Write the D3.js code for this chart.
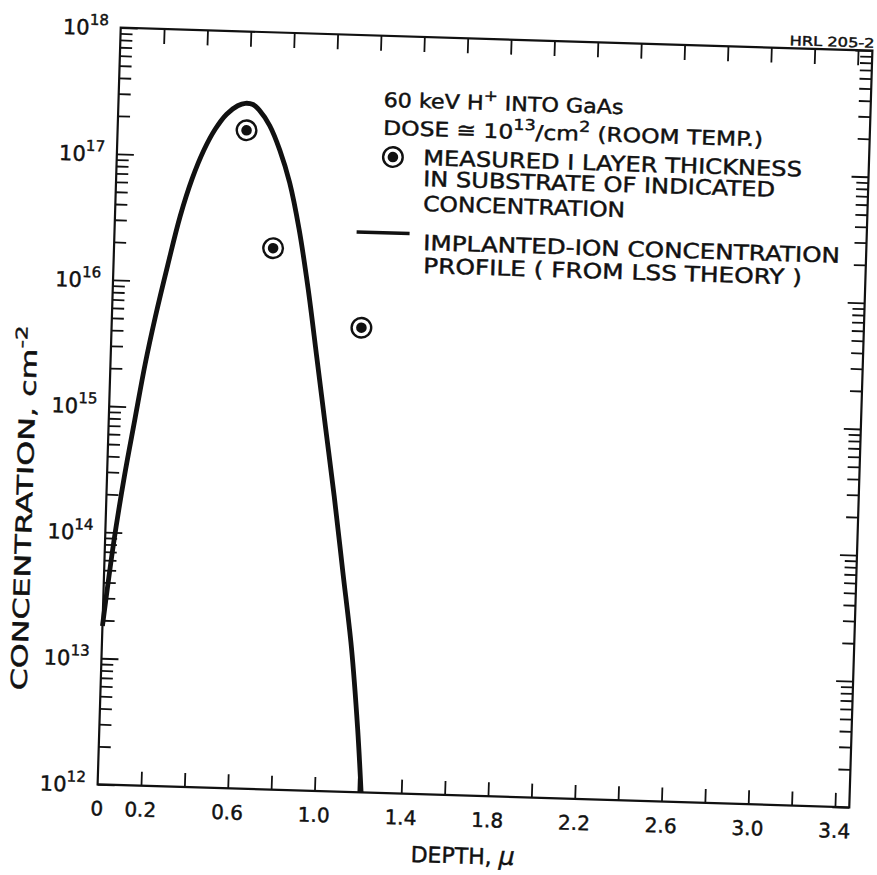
<!DOCTYPE html>
<html>
<head>
<meta charset="utf-8">
<script src="https://cdn.jsdelivr.net/npm/d3@7"></script>
<style>
  body { margin: 0; background: #fff; }
  svg { display: block; }
  text { font-family: "DejaVu Sans", sans-serif; fill: #111; stroke: #111; stroke-width: 0.45; }
</style>
</head>
<body>
<svg id="chart" width="877" height="875"></svg>
<script>
// depth axis
let depthTicks = [0.2, 0.4, 0.6, 0.8, 1.0, 1.2, 1.4, 1.6, 1.8, 2.0, 2.2, 2.4, 2.6, 2.8, 3.0, 3.2, 3.4];
let depthLabelValues = [0, 0.2, 0.6, 1.0, 1.4, 1.8, 2.2, 2.6, 3.0, 3.4];
let depthLabels = ["0", "0.2", "0.6", "1.0", "1.4", "1.8", "2.2", "2.6", "3.0", "3.4"];

// concentration axis (powers of ten)
let decadeExponents = [12, 13, 14, 15, 16, 17, 18];

// LSS theory profile
let profileDepth = [0, 0.04, 0.08, 0.12, 0.16, 0.20, 0.25, 0.30, 0.35, 0.40, 0.45, 0.50, 0.55, 0.585,
  0.62, 0.65, 0.70, 0.75, 0.80, 0.85, 0.90, 0.95, 1.00, 1.05, 1.10, 1.15, 1.19, 1.215];
let profileConc = [1.8e13, 8.3e13, 2.8e14, 7.9e14, 2.2e15, 5.2e15, 1.35e16, 3.3e16, 6.6e16, 1.12e17, 1.66e17, 2.19e17, 2.57e17, 2.7e17,
  2.65e17, 2.4e17, 1.82e17, 1.17e17, 6.5e16, 2.8e16, 9.5e15, 2.7e15, 7.6e14, 2.15e14, 5.5e13, 1.4e13, 3.2e12, 1.0e12];

// measured I layer thickness
let measuredDepth = [0.594, 0.733, 1.151];
let measuredConc = [1.65e17, 1.95e16, 4.8e15];

let svg = d3.select("#chart");

let plotLeft = 109, plotRight = 861, plotTop = 39, plotBottom = 796;

// the scanned figure sits a little askew
let chart = svg.append("g").attr("transform", "rotate(1.75, 485, 417.5)");

let x = d3.scaleLinear().domain([0, 3.466]).range([plotLeft, plotRight]);
let y = d3.scaleLog().domain([1e12, 1e18]).range([plotBottom, plotTop]);

let allY = y.ticks();
let majorY = allY.filter((v) => Math.abs(Math.log10(v) - Math.round(Math.log10(v))) < 1e-9);
let minorY = allY.filter((v) => majorY.indexOf(v) < 0);

let styleAxis = (g) => {
  g.select(".domain").remove();
  g.selectAll(".tick line").attr("stroke", "#111").attr("stroke-width", 1.8);
};

// left axis ticks
chart.append("g").attr("transform", "translate(" + plotLeft + ",0)")
  .call(d3.axisLeft(y).tickValues(majorY).tickSize(-17).tickFormat(""))
  .call(styleAxis);
chart.append("g").attr("transform", "translate(" + plotLeft + ",0)")
  .call(d3.axisLeft(y).tickValues(minorY).tickSize(-12).tickFormat(""))
  .call(styleAxis);

// right axis ticks
chart.append("g").attr("transform", "translate(" + plotRight + ",0)")
  .call(d3.axisRight(y).tickValues(majorY).tickSize(-17).tickFormat(""))
  .call(styleAxis);
chart.append("g").attr("transform", "translate(" + plotRight + ",0)")
  .call(d3.axisRight(y).tickValues(minorY).tickSize(-12).tickFormat(""))
  .call(styleAxis);

// top axis ticks
chart.append("g").attr("transform", "translate(0," + plotTop + ")")
  .call(d3.axisTop(x).tickValues(depthTicks).tickSize(-15).tickFormat(""))
  .call(styleAxis);

// bottom axis ticks
chart.append("g").attr("transform", "translate(0," + plotBottom + ")")
  .call(d3.axisBottom(x).tickValues(depthTicks).tickSize(-14).tickFormat(""))
  .call(styleAxis);

// bottom labels
chart.append("g").selectAll("text")
  .data(depthLabelValues)
  .enter()
  .append("text")
  .attr("x", (d) => x(d))
  .attr("y", plotBottom + 31)
  .attr("text-anchor", "middle")
  .attr("font-size", 20)
  .text((d, i) => depthLabels[i]);

// left labels 10^n
let yLab = chart.append("g").selectAll("text")
  .data(decadeExponents)
  .enter()
  .append("text")
  .attr("x", plotLeft - 12)
  .attr("y", (d) => y(Math.pow(10, d)) + 8)
  .attr("text-anchor", "end")
  .attr("font-size", 21);
yLab.append("tspan").text("10");
yLab.append("tspan").attr("font-size", 15).attr("dy", -10).text((d) => d);

// frame
chart.append("rect")
  .attr("x", plotLeft).attr("y", plotTop)
  .attr("width", plotRight - plotLeft).attr("height", plotBottom - plotTop)
  .attr("fill", "none").attr("stroke", "#111").attr("stroke-width", 2.2);

// profile curve
let line = d3.line()
  .x((d) => x(d[0]))
  .y((d) => y(d[1]))
  .curve(d3.curveCatmullRom.alpha(0.5));

chart.append("path")
  .datum(profileDepth.map((d, i) => [d, profileConc[i]]))
  .attr("d", line)
  .attr("fill", "none")
  .attr("stroke", "#111")
  .attr("stroke-width", 4.8)
  .attr("stroke-linejoin", "round");

// measured points
let drawMarker = (g, cx, cy) => {
  g.append("circle").attr("cx", cx).attr("cy", cy).attr("r", 9.8)
    .attr("fill", "#fff").attr("stroke", "#111").attr("stroke-width", 2.4);
  g.append("circle").attr("cx", cx).attr("cy", cy).attr("r", 5.3).attr("fill", "#111");
};

let pts = chart.append("g");
measuredDepth.forEach((d, i) => drawMarker(pts, x(d), y(measuredConc[i])));

// legend block
let legend = chart.append("g");

let l1 = legend.append("text").attr("x", 374).attr("y", 110).attr("font-size", 20)
  .attr("textLength", 240).attr("lengthAdjust", "spacingAndGlyphs");
l1.append("tspan").text("60 keV H");
l1.append("tspan").attr("font-size", 15).attr("dy", -9).text("+");
l1.append("tspan").attr("dy", 9).text(" INTO GaAs");

let l2 = legend.append("text").attr("x", 374.5).attr("y", 138).attr("font-size", 20)
  .attr("textLength", 380).attr("lengthAdjust", "spacingAndGlyphs");
l2.append("tspan").text("DOSE \u2245 10");
l2.append("tspan").attr("font-size", 15).attr("dy", -9).text("13");
l2.append("tspan").attr("dy", 9).text("/cm");
l2.append("tspan").attr("font-size", 15).attr("dy", -9).text("2");
l2.append("tspan").attr("dy", 9).text(" (ROOM TEMP.)");

drawMarker(legend, 385, 160);

let legendRows = [
  ["MEASURED I LAYER THICKNESS", 415.3, 167, 379],
  ["IN SUBSTRATE OF INDICATED", 415.9, 188, 352],
  ["CONCENTRATION", 416.7, 213, 202],
  ["IMPLANTED-ION CONCENTRATION", 417.9, 252, 417],
  ["PROFILE ( FROM LSS THEORY )", 418.6, 275, 379]
];

legend.selectAll("text.row")
  .data(legendRows)
  .enter()
  .append("text")
  .attr("class", "row")
  .attr("x", (d) => d[1])
  .attr("y", (d) => d[2])
  .attr("font-size", 21)
  .attr("textLength", (d) => d[3])
  .attr("lengthAdjust", "spacingAndGlyphs")
  .text((d) => d[0]);

legend.append("line")
  .attr("x1", 351).attr("x2", 404).attr("y1", 236).attr("y2", 236)
  .attr("stroke", "#111").attr("stroke-width", 3.5);

// axis titles
let xTitle = chart.append("text").attr("x", 476).attr("y", 864).attr("font-size", 22)
  .attr("text-anchor", "middle");
xTitle.append("tspan").text("DEPTH, ");
xTitle.append("tspan").attr("font-style", "italic").attr("font-size", 25).text("\u03bc");

let yTitle = chart.append("text")
  .attr("transform", "translate(35,522) rotate(-90)")
  .attr("text-anchor", "middle")
  .attr("font-size", 22)
  .attr("textLength", 365)
  .attr("lengthAdjust", "spacingAndGlyphs");
yTitle.append("tspan").text("CONCENTRATION, cm");
yTitle.append("tspan").attr("font-size", 16).attr("dy", -10).text("-2");

chart.append("text").attr("x", 778).attr("y", 36).attr("font-size", 13)
  .attr("textLength", 85).attr("lengthAdjust", "spacingAndGlyphs")
  .text("HRL 205-2");
</script>
</body>
</html>
